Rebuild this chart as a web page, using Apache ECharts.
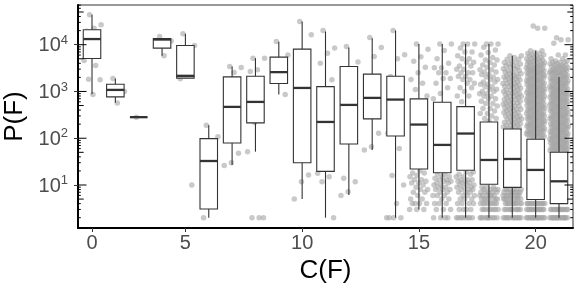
<!DOCTYPE html>
<html><head><meta charset="utf-8">
<script src="https://cdn.jsdelivr.net/npm/echarts@6/dist/echarts.min.js"></script>
<style>html,body{margin:0;padding:0;background:#fff}#c{width:581px;height:291px}</style>
</head><body><div id="c"></div>
<script>
// ---------- data ----------
const categories = ['0','1','2','3','5','6','7','8','9','10','11','12','13','14','15','16','17','18','19','20','21'];
const xTickLabels = ['0','5','10','15','20'];
const yTickValues = [10, 100, 1000, 10000];

const boxMin    = [875, 576, 282, 5780, 1900, 2, 26.8, 51.6, 859, 5.0, 2, 6.1, 56, 2, 3, 2, 2, 2, 2, 2, 2];
const boxQ1     = [5070, 766, 282, 8450, 1930, 3.06, 79, 213, 1480, 30, 19.6, 75.5, 259, 112, 22, 18.3, 20.6, 10.4, 8.9, 4.9, 4];
const boxMedian = [13200, 1080, 282, 12900, 2160, 32.6, 468, 598, 2590, 1190, 223, 516, 729, 671, 196, 72, 126, 34.3, 36, 21, 12];
const boxQ3     = [20900, 1430, 282, 13600, 9610, 98, 2050, 2120, 5420, 8050, 1270, 3410, 2350, 2120, 695, 590, 475, 223, 158, 95, 50];
const boxMax    = [43600, 1890, 282, 13600, 17100, 190, 3410, 5160, 11500, 31400, 19200, 8710, 13800, 20100, 10400, 10400, 10400, 10400, 5780, 7400, 2050];

// observations per category: [value, how many times it occurs]
const pointsC0  = [[43600,1],[26700,1],[22600,1],[19300,1],[12000,1],[8000,1],[4590,1],[3590,1],[1830,1],[1770,1],[859,1]];
const pointsC1  = [[1890,1],[1000,1],[570,1]];
const pointsC2  = [[282,1]];
const pointsC3  = [[15000,1],[12000,1],[5780,1]];
const pointsC5  = [[17100,1],[9600,1],[2160,1],[1870,1],[10,1]];
const pointsC6  = [[190,1],[108,1],[40,1],[2,1]];
const pointsC7  = [[3410,1],[3240,1],[2540,1],[800,1],[47.7,1],[30,1],[26,1]];
const pointsC8  = [[5160,2],[2900,1],[2670,1],[353,1],[216,1],[51.6,1],[2,3]];
const pointsC9  = [[11700,1],[6000,1],[3500,1],[2000,1],[859,1]];
const pointsC10 = [[31400,1],[16300,1],[4000,1],[200,1],[16.4,1],[11.8,1],[5,1]];
const pointsC11 = [[20100,1],[8450,1],[6600,1],[4030,1],[1770,1],[100,1],[17.8,1],[15,1],[11.8,1],[2,1]];
const pointsC12 = [[9160,1],[4240,1],[1500,1],[13.9,1],[11.8,1],[7.2,1],[6,1]];
const pointsC13 = [[14300,1],[8700,1],[5590,1],[1000,1],[128,1],[66,1],[56,1]];
const pointsC14 = [[20100,1],[6100,1],[5000,1],[2100,1],[900,1],[163,1],[128,1],[60,1],[16,1],[10,1],[4,1],[2,4]];
const pointsC15 = [[10400,1],[8000,1],[5500,1],[4400,1],[3300,1],[2500,1],[1800,1],[1500,1],[1100,1],[800,1],
  [20,1],[18,2],[16,1],[15,1],[13,2],[12,1],[11,2],[10,1],[9,1],[8,2],[7,2],[6,1],[5,2],[4,4],[3,3]];
const pointsC16 = [[10400,2],[7500,1],[5000,1],[4000,1],[3200,2],[2500,2],[1900,2],[1500,1],[1200,1],[900,1],[700,1],
  [17,2],[15,2],[14,1],[13,2],[12,2],[11,2],[10,2],[9,2],[8,3],[7,2],[6,3],[5,2],[4,3],[3,3],[2,4]];
const pointsC17 = [[10400,3],[8500,1],[7000,2],[5800,1],[5000,2],[4200,2],[3500,2],[3000,2],[2500,3],[2100,2],[1800,2],[1500,2],[1200,2],[1000,1],[800,2],[600,1],
  [19,2],[17,2],[15,2],[13,3],[12,2],[11,2],[10,3],[9,3],[8,3],[7,3],[6,3],[5,3],[4,4],[3,4],[2,8]];
const pointsC18 = [[10400,3],[8800,1],[7700,1],[6800,1],[6000,1],[5300,1],[4700,2],[4150,1],[3700,2],[3300,1],[2900,2],[2600,2],[2300,2],[2050,2],[1800,2],[1600,2],[1420,2],[1260,2],[1120,2],[1000,2],[890,2],[790,2],[700,2],[620,1],[550,2],[490,1],[430,2],[380,1],[340,2],[300,1],[265,2],[235,1],
  [9,3],[8,4],[7,5],[6,6],[5,7],[4,8],[3,8],[2,10]];
const pointsC19 = [[5800,2],[5300,1],[4900,2],[4500,1],[4150,2],[3850,2],[3550,2],[3300,2],[3050,2],[2800,2],[2600,2],[2400,3],[2200,2],[2050,3],[1900,2],[1750,3],[1600,2],[1480,3],[1370,2],[1270,3],[1170,2],[1080,3],[1000,2],[920,3],[850,2],[790,3],[730,2],[670,3],[620,2],[570,3],[530,2],[490,3],[450,2],[415,3],[385,2],[355,3],[330,2],[300,3],[280,2],[258,3],[238,2],[220,3],[203,2],[188,3],[174,2],[161,3],
  [8,6],[7,7],[6,8],[5,9],[4,10],[3,10],[2,12]];
const pointsC20 = [[25000,1],[22600,2],[7400,2],[6900,1],[6500,2],[6100,2],[5700,2],[5300,2],[5000,3],[4700,2],[4400,3],[4100,3],[3850,3],[3600,3],[3400,3],[3200,3],[3000,4],[2800,3],[2650,4],[2500,3],[2350,4],[2200,3],[2050,4],[1950,3],[1800,4],[1700,3],[1600,4],[1500,3],[1400,4],[1300,3],[1230,4],[1150,3],[1080,4],[1010,3],[950,4],[890,3],[840,4],[790,3],[740,4],[690,3],[650,4],[610,3],[570,4],[540,3],[500,4],[470,3],[440,4],[415,3],[390,4],[365,3],[340,4],[320,3],[300,4],[282,3],[265,4],[248,3],[233,4],[218,3],[205,4],[192,3],[180,4],[170,3],[160,4],[150,3],[140,4],[132,3],[124,4],[116,3],[109,4],[102,3],
  [4,14],[3,14],[2,16]];
const pointsC21 = [[14000,1],[12700,2],[10800,1],[6000,2],[5000,2],[4500,2],[4200,3],[3900,2],[3650,3],[3400,3],[3200,3],[3000,3],[2800,4],[2650,3],[2500,4],[2350,3],[2200,4],[2050,3],[1950,4],[1800,3],[1700,4],[1600,3],[1500,4],[1400,3],[1300,4],[1230,3],[1150,4],[1080,3],[1010,4],[950,3],[890,4],[840,3],[790,4],[740,3],[690,4],[650,3],[610,4],[570,3],[540,4],[500,3],[470,4],[440,3],[415,4],[390,3],[365,4],[340,3],[320,4],[300,3],[282,4],[265,3],[248,4],[233,3],[218,4],[205,3],[192,4],[180,3],[170,4],[160,3],[150,4],[140,3],[132,4],[124,3],[116,4],[109,3],[102,4],[96,3],[90,4],[85,3],[80,4],[75,3],[70,4],[66,3],[62,4],[58,3],[55,4],[52,3],
  [3,14],[2,16]];

const pointTables = [pointsC0,pointsC1,pointsC2,pointsC3,pointsC5,pointsC6,pointsC7,pointsC8,pointsC9,pointsC10,
  pointsC11,pointsC12,pointsC13,pointsC14,pointsC15,pointsC16,pointsC17,pointsC18,pointsC19,pointsC20,pointsC21];

// ---------- layout ----------
const FONT = 'Liberation Sans, Arial, Helvetica, sans-serif';
const JITTER = 0.4;
const BOXW = 0.375;
const Y_MIN = 1.204, Y_MAX = 70600;

function jitteredPoints() {
  const out = [];
  pointTables.forEach((tbl, ci) => {
    let k = 0;
    tbl.forEach(([v, n]) => {
      for (let j = 0; j < n; j++) {
        const f = (k * 0.6180339887 + 0.37) % 1;   // deterministic spread (layout only)
        out.push([ci + (f - 0.5) * 2 * JITTER, v]);
        k++;
      }
    });
  });
  return out;
}

const boxData = categories.map((c, i) => [i, boxMin[i], boxQ1[i], boxMedian[i], boxQ3[i], boxMax[i]]);

const logTicks = [];
[0,1,2,3,4].forEach(d => { for (let m = 1; m <= 9; m++) { const v = m * Math.pow(10, d); if (v >= Y_MIN && v <= Y_MAX) logTicks.push([0, v, m]); } });

const xTickIdx = xTickLabels.map(l => categories.indexOf(l));

const chart = echarts.init(document.getElementById('c'), null, {renderer: 'canvas'});
chart.setOption({
  backgroundColor: '#fff',
  animation: false,
  grid: {left: 78, right: 8, top: 5, bottom: 63, show: true, borderColor: '#333', borderWidth: 1, backgroundColor: '#fff',
    containLabel: false, outerBoundsMode: 'none'},
  xAxis: {
    type: 'value', min: -0.6, max: 20.6,
    name: 'C(F)', nameLocation: 'middle', nameGap: 22,
    nameTextStyle: {fontFamily: FONT, fontSize: 26, color: '#000', verticalAlign: 'top'},
    axisLine: {show: true, onZero: false, lineStyle: {color: '#000', width: 2}},
    axisTick: {show: true, length: 4, lineStyle: {color: '#333', width: 1}, customValues: xTickIdx},
    axisLabel: {show: true, customValues: xTickIdx, margin: 5, fontFamily: FONT, fontSize: 20, color: '#4d4d4d',
      formatter: v => categories[Math.round(v)]},
    splitLine: {show: false}
  },
  yAxis: {
    type: 'log', logBase: 10, min: Y_MIN, max: Y_MAX,
    name: 'P(F)', nameLocation: 'middle', nameGap: 46,
    nameTextStyle: {fontFamily: FONT, fontSize: 26, color: '#000'},
    axisLine: {show: true, onZero: false, lineStyle: {color: '#000', width: 2}},
    axisTick: {show: true, length: 4, lineStyle: {color: '#333', width: 1}, customValues: yTickValues},
    axisLabel: {show: true, customValues: yTickValues, margin: 10,
      formatter: v => '{b|10}{s|' + Math.round(Math.log10(v)) + '}',
      rich: {
        b: {fontFamily: FONT, fontSize: 20, color: '#4d4d4d', lineHeight: 22, verticalAlign: 'bottom'},
        s: {fontFamily: FONT, fontSize: 13, color: '#4d4d4d', lineHeight: 22, verticalAlign: 'top', padding: [0, 0, 6, 0]}
      }},
    splitLine: {show: false},
    minorTick: {show: false}
  },
  series: [
    {
      type: 'scatter', z: 1,
      data: jitteredPoints(),
      symbolSize: 5.5,
      itemStyle: {color: 'rgb(165,165,165)', opacity: 0.6},
      silent: true
    },
    {
      type: 'custom', z: 2,
      data: boxData,
      encode: {x: 0, y: [1,2,3,4,5]},
      renderItem: function (params, api) {
        const i = api.value(0);
        const mn = api.value(1), q1 = api.value(2), md = api.value(3), q3 = api.value(4), mx = api.value(5);
        const xc = api.coord([i, md])[0];
        const xl = api.coord([i - BOXW, md])[0];
        const xr = api.coord([i + BOXW, md])[0];
        const yMn = api.coord([i, mn])[1], yQ1 = api.coord([i, q1])[1], yMd = api.coord([i, md])[1];
        const yQ3 = api.coord([i, q3])[1], yMx = api.coord([i, mx])[1];
        const st = {stroke: '#333', lineWidth: 1.1, fill: null};
        return {type: 'group', children: [
          {type: 'line', shape: {x1: xc, y1: yMx, x2: xc, y2: yQ3}, style: st},
          {type: 'line', shape: {x1: xc, y1: yQ1, x2: xc, y2: yMn}, style: st},
          {type: 'rect', shape: {x: xl, y: yQ3, width: xr - xl, height: yQ1 - yQ3}, style: {stroke: '#333', lineWidth: 1.1, fill: '#fff'}},
          {type: 'line', shape: {x1: xl, y1: yMd, x2: xr, y2: yMd}, style: {stroke: '#333', lineWidth: 2.3}}
        ]};
      }
    },
    {
      type: 'custom', z: 3, silent: true, clip: false,
      data: logTicks,
      dimensions: ['x', 'v', 'm'],
      encode: {x: 0, y: 1},
      renderItem: function (params, api) {
        const v = api.value(1), m = api.value(2);
        const y = api.coord([0, v])[1];
        const cs = params.coordSys;
        const len = m === 1 ? 8.5 : (m === 5 ? 5.7 : 2.8);
        const st = {stroke: '#000', lineWidth: 1};
        return {type: 'group', children: [
          {type: 'line', shape: {x1: cs.x, y1: y, x2: cs.x + len, y2: y}, style: st},
          {type: 'line', shape: {x1: cs.x + cs.width, y1: y, x2: cs.x + cs.width - len, y2: y}, style: st}
        ]};
      }
    }
  ]
});
</script></body></html>
